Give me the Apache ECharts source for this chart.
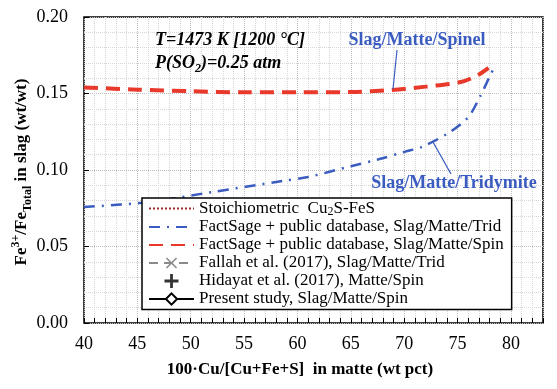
<!DOCTYPE html>
<html>
<head>
<meta charset="utf-8">
<script src="https://cdn.jsdelivr.net/npm/echarts@6/dist/echarts.min.js"></script>
<style>
  html, body { margin: 0; padding: 0; background: #fff; }
  #chart { width: 557px; height: 389px; }
</style>
</head>
<body>
<div id="chart"></div>
<script>
// 数据 (x = 100·Cu/[Cu+Fe+S], y = Fe3+/Fe_total)
var spinelX = [40, 45, 50, 55, 60, 65, 68.8, 72, 75.3, 76.9, 77.9];
var spinelY = [0.154, 0.1525, 0.1515, 0.1508, 0.1508, 0.151, 0.1523, 0.1545, 0.1575, 0.162, 0.1667];
var tridX = [40, 46, 52, 58.6, 61, 65, 67.6, 70.1, 71.6, 74.1, 76, 77.1, 78, 78.4];
var tridY = [0.0758, 0.079, 0.0856, 0.0928, 0.0954, 0.1025, 0.107, 0.112, 0.115, 0.124, 0.1346, 0.148, 0.161, 0.1667];
var xTicks = [40, 45, 50, 55, 60, 65, 70, 75, 80];
var yTicks = [0, 0.05, 0.1, 0.15, 0.2];

var names = [
  "Stoichiometric  Cu2S-FeS",
  "FactSage + public database, Slag/Matte/Trid",
  "FactSage + public database, Slag/Matte/Spin",
  "Fallah et al. (2017), Slag/Matte/Trid",
  "Hidayat et al. (2017), Matte/Spin",
  "Present study, Slag/Matte/Spin"
];

function pairs(xs, ys) {
  return xs.map(function (x, i) { return [x, ys[i]]; });
}

var FONT = "Liberation Serif";
var BLUE = "#3a5cc0";
var RED = "#e8392b";
var myChart = echarts.init(document.getElementById("chart"));

var option = {
  animation: false,
  textStyle: { fontFamily: FONT },
  grid: {
    left: 84, right: 14, top: 17, bottom: 66,
    show: true, borderColor: "#000", borderWidth: 1.5, backgroundColor: "transparent"
  },
  //图列
  legend: {
    orient: "vertical",
    left: 142, top: 198,
    padding: [2, 8, 2, 6],
    itemGap: 1,
    itemWidth: 45,
    itemHeight: 14,
    backgroundColor: "#fff",
    borderColor: "#000",
    borderWidth: 1.5,
    data: names,
    formatter: function (n) {
      if (n.indexOf("Cu2S") >= 0) return "{n|Stoichiometric  Cu}{s|2}{n|S-FeS}";
      return "{n|" + n + "}";
    },
    textStyle: {
      color: "#000",
      fontFamily: FONT,
      fontSize: 17,
      rich: {
        n: { fontFamily: FONT, fontSize: 17, color: "#000", lineHeight: 18 },
        s: { fontFamily: FONT, fontSize: 12, color: "#000", lineHeight: 18, verticalAlign: "bottom" }
      }
    }
  },
  xAxis: {
    type: "value",
    min: 40, max: 83, interval: 5,
    axisLine: { show: false },
    axisTick: { show: true, inside: true, length: 5, lineStyle: { color: "#000" } },
    minorTick: { show: true, splitNumber: 5, length: 5, lineStyle: { color: "#000", width: 1 } },
    axisLabel: {
      showMaxLabel: false, color: "#000", fontFamily: FONT, fontSize: 18, margin: 12,
      formatter: function (v) { return xTicks.indexOf(v) >= 0 ? String(v) : ""; }
    },
    splitLine: { show: true, lineStyle: { color: "#bdbdbd", type: "dotted", width: 1 } },
    minorSplitLine: { show: true, lineStyle: { color: "#d6d6d6", type: "dotted", width: 1 } }
  },
  yAxis: {
    type: "value",
    min: 0, max: 0.2, interval: 0.05,
    axisLine: { show: false },
    axisTick: { show: true, inside: true, length: 5, lineStyle: { color: "#000" } },
    axisLabel: {
      color: "#000", fontFamily: FONT, fontSize: 18, margin: 16,
      formatter: function (v) {
        var t = yTicks.filter(function (k) { return Math.abs(k - v) < 1e-9; });
        return t.length ? v.toFixed(2) : "";
      }
    },
    splitLine: { show: true, lineStyle: { color: "#bdbdbd", type: "dotted", width: 1 } },
    minorTick: { show: false, splitNumber: 5 },
    minorSplitLine: { show: true, lineStyle: { color: "#d6d6d6", type: "dotted", width: 1 } }
  },
  series: [
    {
      name: names[0], type: "line", data: [], symbol: "circle", symbolSize: 0, showSymbol: false,
      itemStyle: { color: "#9e2a2b", opacity: 0 },
      lineStyle: { color: "#9e2a2b", width: 2, type: [2, 2] }
    },
    {
      name: names[1], type: "line", data: pairs(tridX, tridY), symbol: "circle", symbolSize: 0, showSymbol: false, smooth: 0.3,
      itemStyle: { color: BLUE, opacity: 0 },
      lineStyle: { color: BLUE, width: 2.5, type: [11, 7, 2, 7] },
      z: 3
    },
    {
      name: names[2], type: "line", data: pairs(spinelX, spinelY), symbol: "circle", symbolSize: 0, showSymbol: false, smooth: 0.3,
      itemStyle: { color: RED, opacity: 0 },
      lineStyle: { color: RED, width: 4, type: [14, 8] },
      z: 4
    },
    {
      name: names[3], type: "line", data: [],
      symbol: "path://M0,1L1,0L5,4L9,0L10,1L6,5L10,9L9,10L5,6L1,10L0,9L4,5Z", symbolSize: 11,
      itemStyle: { color: "#8a8a8a" },
      lineStyle: { color: "#8a8a8a", width: 2.5, type: [9, 6] }
    },
    {
      name: names[4], type: "scatter", data: [],
      symbol: "path://M4,0h2v4h4v2h-4v4h-2v-4h-4v-2h4z", symbolSize: 10,
      itemStyle: { color: "#000" }
    },
    {
      name: names[5], type: "line", data: [],
      symbol: "diamond", symbolSize: 11,
      itemStyle: { color: "#fff", borderColor: "#000", borderWidth: 1.3 },
      lineStyle: { color: "#000", width: 2.5 }
    }
  ],
  graphic: [
    {
      type: "text", left: 155, top: 31, z: 10,
      style: {
        text: "{a|T=1473 K [1200 °C]}\n{a|P(SO}{s|2}{a|)=0.25 atm}",
        rich: {
          a: { fontFamily: FONT, fontSize: 18, fontWeight: "bold", fontStyle: "italic", fill: "#000", lineHeight: 23 },
          s: { fontFamily: FONT, fontSize: 12, fontWeight: "bold", fontStyle: "italic", fill: "#000", lineHeight: 23, verticalAlign: "bottom" }
        }
      }
    },
    {
      type: "text", x: 417, y: 40, z: 10,
      style: { text: "Slag/Matte/Spinel", fontFamily: FONT, fontSize: 18, fontWeight: "bold", fill: BLUE, align: "center", verticalAlign: "middle" }
    },
    { type: "line", z: 10, shape: { x1: 397, y1: 50, x2: 393, y2: 89 }, style: { stroke: BLUE, lineWidth: 1.2 } },
    {
      type: "text", x: 454, y: 183, z: 10,
      style: { text: "Slag/Matte/Tridymite", fontFamily: FONT, fontSize: 18, fontWeight: "bold", fill: BLUE, align: "center", verticalAlign: "middle" }
    },
    { type: "line", z: 10, shape: { x1: 433, y1: 142, x2: 451, y2: 174 }, style: { stroke: BLUE, lineWidth: 1.2 } },
    {
      type: "text", x: 300, y: 370, z: 10,
      style: { text: "100·Cu/[Cu+Fe+S]  in matte (wt pct)", fontFamily: FONT, fontSize: 17, fontWeight: "bold", fill: "#000", align: "center", verticalAlign: "middle" }
    },
    {
      type: "text", x: 22, y: 172, rotation: Math.PI / 2, z: 10,
      style: {
        text: "{a|Fe}{p|3+}{a|/Fe}{b|Total}{a| in slag (wt/wt)}",
        align: "center", verticalAlign: "middle",
        rich: {
          a: { fontFamily: FONT, fontSize: 17, fontWeight: "bold", fill: "#000", lineHeight: 24 },
          p: { fontFamily: FONT, fontSize: 12, fontWeight: "bold", fill: "#000", lineHeight: 24, verticalAlign: "top" },
          b: { fontFamily: FONT, fontSize: 12, fontWeight: "bold", fill: "#000", lineHeight: 24, verticalAlign: "bottom" }
        }
      }
    }
  ]
};

myChart.setOption(option);
</script>
</body>
</html>
